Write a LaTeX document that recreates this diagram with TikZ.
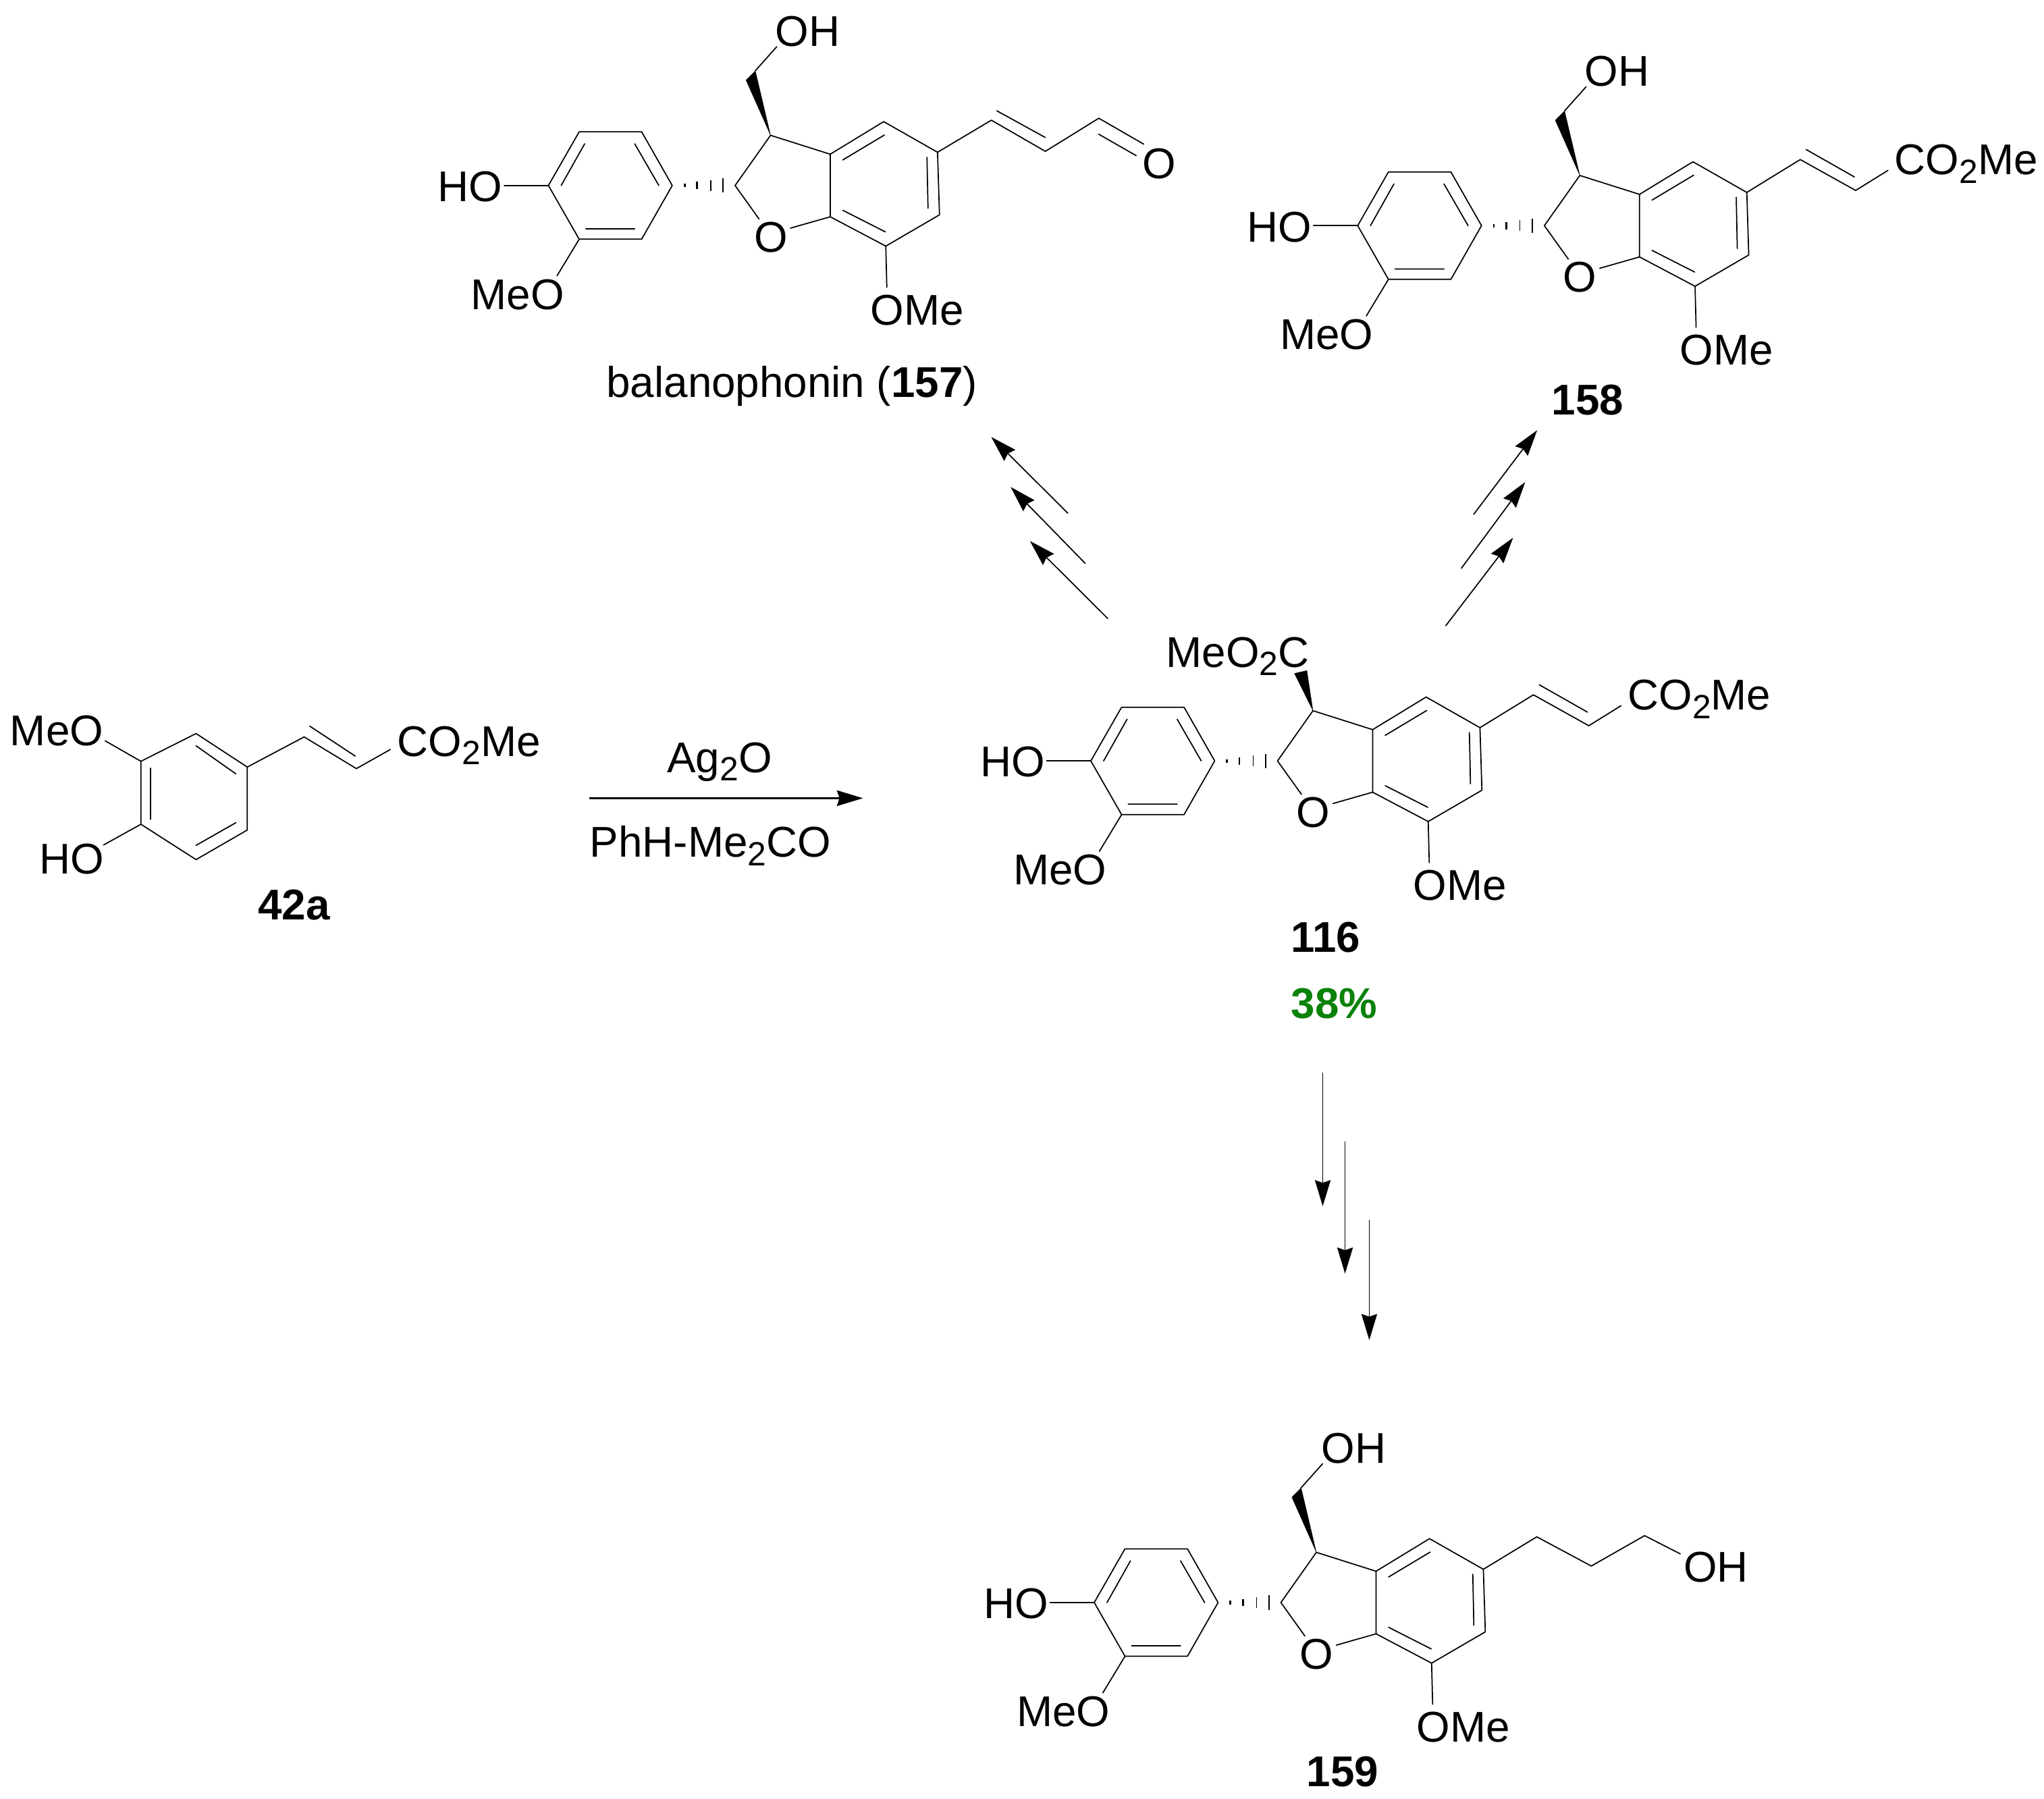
\documentclass[tikz,border=0pt]{standalone}
\usepackage{fontspec}
\setmainfont{Liberation Sans}
\usetikzlibrary{arrows.meta}
\definecolor{yieldgreen}{RGB}{10,130,10}
\newcommand{\subn}[1]{\raisebox{-3.25pt}{\fontsize{12.9}{14}\selectfont #1}}
\tikzset{
  bond/.style={line width=0.45pt,line cap=round,line join=round},
  atom/.style={inner sep=0pt,anchor=base,font=\fontsize{16.5}{18}\selectfont},
  atomleft/.style={inner sep=0pt,anchor=base west,font=\fontsize{16.5}{18}\selectfont},
  cmpd/.style={inner sep=0pt,anchor=base,font=\fontsize{16.5}{18}\selectfont\bfseries},
  rxn/.style={line width=0.45pt,-{Stealth[length=10pt,width=6pt,inset=1pt]}},
  wedgefill/.style={fill=black,draw=black,line width=0.1pt},
  hashline/.style={line width=0.45pt}
}
% dihydrobenzofuran core, origin at the HO-bearing ring carbon
\newcommand{\core}{%
  \coordinate (L) at (0,0);
  \coordinate (TL) at (23.6,-41.2);
  \coordinate (TR) at (71.5,-41.2);
  \coordinate (R) at (95,0);
  \coordinate (BR) at (71.5,41.2);
  \coordinate (BL) at (23.6,41.2);
  \coordinate (C2) at (143.2,0);
  \coordinate (C3) at (170.4,-38.5);
  \coordinate (C3a) at (216.2,-24);
  \coordinate (C7a) at (216.2,24);
  \coordinate (C7) at (258.8,46.5);
  \coordinate (C6) at (300,22.5);
  \coordinate (C5) at (298.5,-25.5);
  \coordinate (C4) at (257.2,-49);
  \draw[bond] (L)--(TL)--(TR)--(R)--(BR)--(BL)--cycle;
  \draw[bond] (27.8,-32)--(9.8,0) (66.2,-32)--(84.7,0) (28.7,33.2)--(66.2,33.2);
  \draw[bond] (C3a)--(C4)--(C5)--(C6)--(C7)--(C7a)--cycle;
  \draw[bond] (225.8,-19.6)--(257.7,-38.7) (290.4,-21.7)--(291.2,17.5) (225.8,19)--(258.5,35.6);
  \draw[bond] (C2)--(C3)--(C3a);
  \node[atom] (O1) at (170.6,51) {O};
  \coordinate (O1a) at (161.6,25.7);
  \coordinate (O1b) at (185.7,32.7);
  \draw[bond] (C2)--(O1a) (C7a)--(O1b);
  \foreach \hx/\hw/\hl in {104.5/1.4/0.7,114/2.8/0.7,124.5/4.1/0.4,134/5.5/0.4}
    \draw[hashline,line width=\hl pt] (\hx,-\hw)--(\hx,\hw);
  \node[atom] (HO) at (-59.9,12.3) {HO};
  \coordinate (HOb) at (-33.9,0);
  \draw[bond] (L)--(HOb);
  \node[atom] (MeO) at (-23.7,95) {MeO};
  \coordinate (MeOb) at (6.6,69.3);
  \draw[bond] (BL)--(MeOb);
  \node[atom] (OMe) at (283,107) {OMe};
  \coordinate (OMeb) at (259.6,78);
  \draw[bond] (C7)--(OMeb);
}
\newcommand{\hydroxymethyl}{%
  \coordinate (CH2) at (158.7,-88);
  \fill[wedgefill] (C3)--(151.6,-80.8)--(CH2)--cycle;
  \coordinate (OHb) at (175.2,-106.5);
  \draw[bond] (CH2)--(OHb);
  \node[atom] (OH) at (199,-107) {OH};
}
\newcommand{\acrylate}{%
  \coordinate (V1) at (339.5,-50.7);
  \coordinate (V2) at (382,-27);
  \coordinate (V3) at (406.8,-42.4);
  \draw[bond] (C5)--(V1)--(V2)--(V3);
  \draw[bond] (344,-58.4)--(381,-37.4);
  \node[atomleft] (EST) at (411.5,-39) {CO\subn{2}Me};
}
\begin{document}
\begin{tikzpicture}[x=0.5pt,y=-0.5pt]
\useasboundingbox (0,0) rectangle (1568,1380);
\fill[white] (0,0) rectangle (1568,1380);

% balanophonin 157
\begin{scope}[shift={(420.7,142.3)},name prefix=a-]
  \core
  \hydroxymethyl
  \coordinate (V1) at (339.8,-50.1);
  \coordinate (V2) at (381.2,-26.2);
  \coordinate (V3) at (422.2,-51.6);
  \coordinate (Ob) at (456.7,-31.7);
  \draw[bond] (C5)--(V1)--(V2)--(V3)--(Ob);
  \draw[bond] (344,-57.3)--(381.2,-36.8) (422.2,-39.3)--(450.9,-22.9);
  \node[atom] (Oald) at (468.5,-5.1) {O};
\end{scope}
\node[atom] (n157) at (607.5,305) {balanophonin (\textbf{157})};

% 158
\begin{scope}[shift={(1041.5,173.1)},name prefix=b-]
  \core
  \hydroxymethyl
  \acrylate
\end{scope}
\node[cmpd] (n158) at (1217.8,318) {158};

% 116
\begin{scope}[shift={(836.8,583.7)},name prefix=c-]
  \core
  \coordinate (W1) at (156.2,-67.1);
  \coordinate (W2) at (165.7,-69.3);
  \fill[wedgefill] (C3)--(W1)--(W2)--cycle;
  \node[atomleft] (EST2) at (57.5,-71.9) {MeO\subn{2}C};
  \acrylate
\end{scope}
\node[cmpd] (n116) at (1017,730.2) {116};
\node[cmpd,text=yieldgreen] (yld) at (1023.5,781) {38\%};

% 159
\begin{scope}[shift={(839.4,1229.3)},name prefix=d-]
  \core
  \hydroxymethyl
  \coordinate (V1) at (339.5,-50.4);
  \coordinate (V2) at (381.3,-28);
  \coordinate (V3) at (422.2,-51.3);
  \coordinate (OHc) at (449.6,-37.3);
  \draw[bond] (C5)--(V1)--(V2)--(V3)--(OHc);
  \node[atom] (OHt) at (476.9,-15.8) {OH};
\end{scope}
\node[cmpd] (n159) at (1030,1370.2) {159};

% 42a
\begin{scope}[name prefix=e-]
  \coordinate (A1) at (150.4,562.7);
  \coordinate (A2) at (189.7,588.4);
  \coordinate (A3) at (189.7,636.7);
  \coordinate (A4) at (150.4,659.4);
  \coordinate (A5) at (108.1,632.3);
  \coordinate (A6) at (108.1,584);
  \draw[bond] (A1)--(A2)--(A3)--(A4)--(A5)--(A6)--cycle;
  \draw[bond] (150.4,572.1)--(180.9,593.6) (115.5,589.2)--(115.5,628.5) (180.9,631.1)--(150.4,648.5);
  \coordinate (V1) at (233.3,565.3);
  \coordinate (V2) at (273.4,589.6);
  \coordinate (V3) at (299.5,574.9);
  \draw[bond] (A2)--(V1)--(V2)--(V3);
  \draw[bond] (237.6,557)--(272.5,580);
  \node[atomleft] (EST) at (304.5,580.2) {CO\subn{2}Me};
  \coordinate (MeOb) at (80.7,568.3);
  \draw[bond] (A6)--(MeOb);
  \node[atom] (MeO) at (43.5,571.8) {MeO};
  \coordinate (HOb) at (79.4,648.2);
  \draw[bond] (A5)--(HOb);
  \node[atom] (HO) at (55,670.3) {HO};
\end{scope}
\node[cmpd] (n42a) at (225.6,705.5) {42a};

% reaction arrow and conditions
\coordinate (ra) at (452.1,612.3);
\coordinate (rb) at (662,612.3);
\draw[rxn,line width=0.6pt] (ra)--(rb);
\node[atom] (cond1) at (552,592.4) {Ag\subn{2}O};
\node[atom] (cond2) at (545,657.6) {PhH-Me\subn{2}CO};

% multi-step arrows
\foreach \nm/\tx/\ty/\hx/\hy in {
  l1/819.3/393.8/760.4/335.2, l2/832.6/432.3/775.3/373.6, l3/849.9/474.6/790.1/415,
  r1/1130.4/394.7/1179.2/330, r2/1120.9/436.1/1170/369.8, r3/1109/480.1/1160.7/412.5,
  d1/1014.7/822.9/1014.7/925.3, d2/1031.8/875.7/1031.8/977, d3/1050.4/935.8/1050.4/1028}{
  \coordinate (\nm t) at (\tx,\ty);
  \coordinate (\nm h) at (\hx,\hy);
  \draw[rxn] (\nm t)--(\nm h);
}
\end{tikzpicture}
\end{document}
